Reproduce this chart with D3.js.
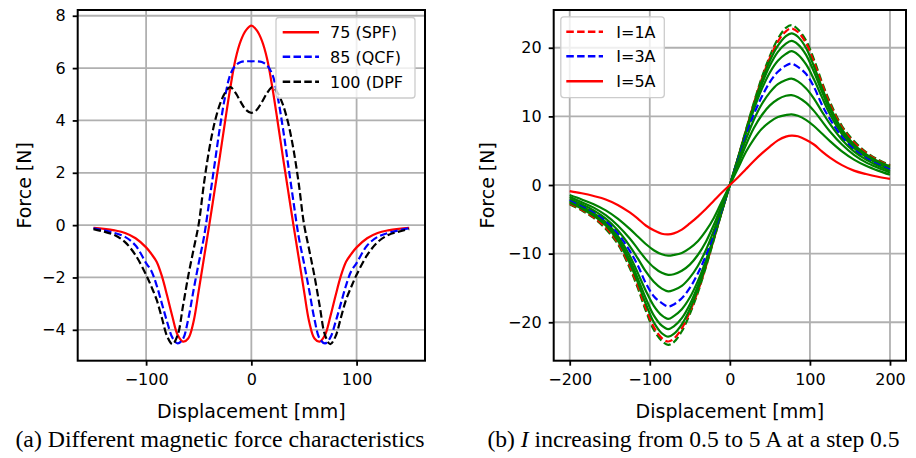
<!DOCTYPE html>
<html><head><meta charset="utf-8">
<script src="https://cdn.jsdelivr.net/npm/d3@7"></script>
<style>body{margin:0;background:#fff}svg{display:block}</style>
</head><body>
<svg id="c" width="916" height="458"></svg>
<script>
// ---------- (a) data ----------
const dispA = [-150,-140,-130,-120,-110,-100,-95,-90,-85,-80,-75,-70,-65,-60,-55,-50,-45,-40,-35,-30,-25,-20,-15,-10,-5,0,5,10,15,20,25,30,35,40,45,50,55,60,65,70,75,80,85,90,95,100,110,120,130,140,150];
const forceSPF = [-0.10,-0.14,-0.20,-0.30,-0.50,-0.85,-1.10,-1.40,-1.95,-2.70,-3.50,-4.20,-4.45,-4.33,-3.70,-2.50,-1.25,0.00,1.30,2.60,3.95,5.25,6.35,7.05,7.45,7.62,7.45,7.05,6.35,5.25,3.95,2.60,1.30,0.00,-1.25,-2.50,-3.70,-4.33,-4.45,-4.20,-3.50,-2.70,-1.95,-1.40,-1.10,-0.85,-0.50,-0.30,-0.20,-0.14,-0.10];
const forceQCF = [-0.12,-0.20,-0.30,-0.45,-0.78,-1.45,-1.75,-2.30,-3.00,-3.70,-4.30,-4.52,-4.35,-3.60,-2.50,-1.45,-0.45,0.90,2.30,3.70,4.90,5.75,6.10,6.23,6.26,6.26,6.26,6.23,6.10,5.75,4.90,3.70,2.30,0.90,-0.45,-1.45,-2.50,-3.60,-4.35,-4.52,-4.30,-3.70,-3.00,-2.30,-1.75,-1.45,-0.78,-0.45,-0.30,-0.20,-0.12];
const forceDPF = [-0.15,-0.25,-0.38,-0.65,-1.15,-1.90,-2.35,-2.85,-3.55,-4.25,-4.55,-4.20,-3.10,-1.95,-0.95,0.05,1.60,2.90,3.90,4.60,5.05,5.27,5.05,4.70,4.40,4.29,4.40,4.70,5.05,5.27,5.05,4.60,3.90,2.90,1.60,0.05,-0.95,-1.95,-3.10,-4.20,-4.55,-4.25,-3.55,-2.85,-2.35,-1.90,-1.15,-0.65,-0.38,-0.25,-0.15];
const labelsA = ["75 (SPF)", "85 (QCF)", "100 (DPF"];
const xTicksA = [-100, 0, 100];
const yTicksA = [-4, -2, 0, 2, 4, 6, 8];

// ---------- (b) data ----------
const dispB = [-200,-185,-170,-155,-140,-125,-115,-105,-95,-85,-77,-70,-60,-50,-40,-30,-20,-10,0,10,20,30,40,50,60,70,77,85,95,105,115,125,140,155,170,185,200];
const currents = [0.5,1,1.5,2,2.5,3,3.5,4,4.5,5];
const forceI05 = [-2.8,-3.7,-4.8,-6.4,-8.6,-12.1,-15.0,-18.3,-21.1,-22.7,-23.3,-22.9,-21.3,-18.8,-15.7,-12.0,-8.0,-3.9,0,3.9,8.0,12.0,15.7,18.8,21.3,22.9,23.3,22.7,21.1,18.3,15.0,12.1,8.6,6.4,4.8,3.7,2.9];
const forceI10 = [-2.7,-3.6,-4.7,-6.2,-8.4,-11.8,-14.7,-17.9,-20.7,-22.3,-22.8,-22.4,-20.9,-18.5,-15.5,-11.9,-7.9,-3.9,0,3.9,7.9,11.9,15.5,18.5,20.9,22.4,22.8,22.3,20.7,17.9,14.7,11.8,8.4,6.2,4.7,3.6,2.8];
const forceI15 = [-2.6,-3.45,-4.5,-5.9,-8.1,-11.4,-14.2,-17.3,-20.0,-21.6,-22.1,-21.7,-20.3,-18.1,-15.2,-11.7,-7.8,-3.85,0,3.85,7.8,11.7,15.2,18.1,20.3,21.7,22.1,21.6,20.0,17.3,14.2,11.4,8.1,5.9,4.5,3.45,2.7];
const forceI20 = [-2.45,-3.3,-4.3,-5.7,-7.8,-10.9,-13.6,-16.5,-19.0,-20.5,-21.0,-20.6,-19.4,-17.4,-14.7,-11.4,-7.7,-3.8,0,3.8,7.7,11.4,14.7,17.4,19.4,20.6,21.0,20.5,19.0,16.5,13.6,10.9,7.8,5.7,4.3,3.3,2.55];
const forceI25 = [-2.3,-3.1,-4.1,-5.4,-7.4,-10.3,-12.8,-15.4,-17.6,-19.0,-19.5,-19.1,-18.1,-16.4,-14.0,-11.0,-7.5,-3.7,0,3.7,7.5,11.0,14.0,16.4,18.1,19.1,19.5,19.0,17.6,15.4,12.8,10.3,7.4,5.4,4.1,3.1,2.4];
const forceI30 = [-2.15,-3.0,-3.9,-5.2,-7.0,-9.6,-11.7,-14.3,-16.2,-17.2,-17.7,-17.4,-16.5,-15.0,-12.9,-10.3,-7.1,-3.5,0,3.5,7.1,10.3,12.9,15.0,16.5,17.4,17.7,17.2,16.2,14.3,11.7,9.6,7.0,5.2,3.9,3.0,2.25];
const forceI35 = [-1.95,-2.8,-3.7,-4.9,-6.6,-8.9,-10.7,-12.6,-14.1,-15.1,-15.5,-15.3,-14.7,-13.5,-11.8,-9.5,-6.6,-3.3,0,3.3,6.6,9.5,11.8,13.5,14.7,15.3,15.5,15.1,14.1,12.6,10.7,8.9,6.6,4.9,3.7,2.8,2.05];
const forceI40 = [-1.7,-2.5,-3.3,-4.4,-5.9,-7.8,-9.3,-10.8,-12.0,-12.8,-13.1,-13.0,-12.5,-11.6,-10.2,-8.3,-5.8,-2.9,0,2.9,5.8,8.3,10.2,11.6,12.5,13.0,13.1,12.8,12.0,10.8,9.3,7.8,5.9,4.4,3.3,2.5,1.8];
const forceI45 = [-1.45,-2.1,-2.8,-3.7,-4.9,-6.4,-7.5,-8.6,-9.5,-10.1,-10.3,-10.2,-9.9,-9.2,-8.2,-6.7,-4.8,-2.4,0,2.4,4.8,6.7,8.2,9.2,9.9,10.2,10.3,10.1,9.5,8.6,7.5,6.4,4.9,3.7,2.8,2.1,1.5];
const forceI50 = [-0.88,-1.2,-1.6,-2.1,-2.9,-4.0,-4.9,-5.9,-6.6,-7.1,-7.2,-7.05,-6.5,-5.6,-4.6,-3.5,-2.3,-1.1,0,1.1,2.3,3.5,4.6,5.6,6.5,7.05,7.2,7.1,6.6,5.9,4.9,4.0,2.9,2.1,1.6,1.2,0.9];
const labelsB = ["I=1A", "I=3A", "I=5A"];
const xTicksB = [-200, -100, 0, 100, 200];
const yTicksB = [-20, -10, 0, 10, 20];

const captionA = "(a) Different magnetic force characteristics";
const captionB = ["(b) ", "I", " increasing from 0.5 to 5 A at a step 0.5"];

// ---------- drawing ----------
const svg = d3.select("#c");
const SANS = "DejaVu Sans";
const LW = 2.2, DASH = "7.5,3.3", GRID = "#b0b0b0";

function panel(box, xDom, yDom, xTicks, yTicks, id) {
  const x = d3.scaleLinear().domain(xDom).range([box.x0, box.x1]);
  const y = d3.scaleLinear().domain(yDom).range([box.y1, box.y0]);
  const g = svg.append("g");
  g.selectAll(".gx").data(xTicks).join("line")
    .attr("x1", d => x(d)).attr("x2", d => x(d)).attr("y1", box.y0).attr("y2", box.y1)
    .attr("stroke", GRID).attr("stroke-width", 1.8);
  g.selectAll(".gy").data(yTicks).join("line")
    .attr("y1", d => y(d)).attr("y2", d => y(d)).attr("x1", box.x0).attr("x2", box.x1)
    .attr("stroke", GRID).attr("stroke-width", 1.8);
  svg.append("clipPath").attr("id", id).append("rect")
    .attr("x", box.x0).attr("y", box.y0).attr("width", box.x1 - box.x0).attr("height", box.y1 - box.y0);
  const lines = svg.append("g").attr("clip-path", `url(#${id})`);
  const top = svg.append("g");
  top.append("rect").attr("x", box.x0).attr("y", box.y0)
    .attr("width", box.x1 - box.x0).attr("height", box.y1 - box.y0)
    .attr("fill", "none").attr("stroke", "#000").attr("stroke-width", 2);
  const ax = top.append("g").attr("transform", `translate(0,${box.y1})`)
    .call(d3.axisBottom(x).tickValues(xTicks).tickSize(5).tickPadding(8.4));
  const ay = top.append("g").attr("transform", `translate(${box.x0},0)`)
    .call(d3.axisLeft(y).tickValues(yTicks).tickSize(5).tickPadding(7));
  [ax, ay].forEach(a => {
    a.select(".domain").remove();
    a.selectAll(".tick line").attr("stroke", "#000").attr("stroke-width", 1.8);
    a.selectAll("text").attr("font-family", SANS).attr("font-size", 16).attr("fill", "#000");
  });
  top.append("text").attr("x", (box.x0 + box.x1) / 2).attr("y", 418)
    .attr("text-anchor", "middle").attr("font-family", SANS).attr("font-size", 19)
    .text("Displacement [mm]");
  top.append("text").attr("transform", `translate(${box.ylabX},${(box.y0 + box.y1) / 2}) rotate(-90)`)
    .attr("text-anchor", "middle").attr("font-family", SANS).attr("font-size", 19)
    .text("Force [N]");
  return {x, y, lines, top};
}

function legend(parent, lx, ly, w, h, items, hx0, hx1, tx, rows) {
  const lg = parent.append("g");
  lg.append("rect").attr("x", lx).attr("y", ly).attr("width", w).attr("height", h)
    .attr("rx", 3).attr("fill", "#fff").attr("fill-opacity", 0.8)
    .attr("stroke", "#cccccc").attr("stroke-width", 1.3);
  items.forEach((it, i) => {
    lg.append("line").attr("x1", hx0).attr("x2", hx1).attr("y1", rows[i]).attr("y2", rows[i])
      .attr("stroke", it.color).attr("stroke-width", LW + 0.3)
      .attr("stroke-dasharray", it.dash ? DASH : null);
    lg.append("text").attr("x", tx).attr("y", rows[i] + 5.8)
      .attr("font-family", SANS).attr("font-size", 16).text(it.label);
  });
}

// panel (a)
const A = panel({x0: 77.7, x1: 425, y0: 10, y1: 360.7, ylabX: 30.6},
  [-165, 165], [-5.18, 8.22], xTicksA, yTicksA, "clipA");
const lineA = d3.line().x((d, i) => A.x(dispA[i])).y(d => A.y(d)).curve(d3.curveCatmullRom.alpha(0.5));
const seriesA = [
  {v: forceSPF, color: "#ff0000", dash: false, label: labelsA[0]},
  {v: forceQCF, color: "#0000ff", dash: true, label: labelsA[1]},
  {v: forceDPF, color: "#000000", dash: true, label: labelsA[2]}
];
seriesA.forEach(s => {
  A.lines.append("path").attr("d", lineA(s.v)).attr("fill", "none")
    .attr("stroke", s.color).attr("stroke-width", LW)
    .attr("stroke-dasharray", s.dash ? DASH : null);
});
legend(A.top, 276, 17.5, 139, 80.5, seriesA, 282.7, 319, 330, [32.3, 56.7, 81.7]);

// panel (b)
const B = panel({x0: 553.7, x1: 906, y0: 10, y1: 360.7, ylabX: 493.6},
  [-220, 220], [-25.6, 25.5], xTicksB, yTicksB, "clipB");
const lineB = d3.line().x((d, i) => B.x(dispB[i])).y(d => B.y(d)).curve(d3.curveCatmullRom.alpha(0.5));
const seriesB = [forceI05, forceI10, forceI15, forceI20, forceI25, forceI30, forceI35, forceI40, forceI45, forceI50];
const styleB = currents.map(c =>
  c === 1 ? {color: "#ff0000", dash: true} :
  c === 3 ? {color: "#0000ff", dash: true} :
  c === 5 ? {color: "#ff0000", dash: false} :
  c === 0.5 ? {color: "#008000", dash: true} :
  {color: "#008000", dash: false});
seriesB.forEach((v, i) => {
  B.lines.append("path").attr("d", lineB(v)).attr("fill", "none")
    .attr("stroke", styleB[i].color).attr("stroke-width", LW)
    .attr("stroke-dasharray", styleB[i].dash ? DASH : null);
});
legend(B.top, 560.8, 16.8, 103.5, 80.8, [
  {color: "#ff0000", dash: true, label: labelsB[0]},
  {color: "#0000ff", dash: true, label: labelsB[1]},
  {color: "#ff0000", dash: false, label: labelsB[2]}
], 566.3, 603, 616.3, [31.7, 56.3, 81.3]);

// captions
const SERIF = "Liberation Serif";
svg.append("text").attr("x", 220).attr("y", 447).attr("text-anchor", "middle")
  .attr("font-family", SERIF).attr("font-size", 23.8).text(captionA);
const cb = svg.append("text").attr("x", 693.5).attr("y", 447).attr("text-anchor", "middle")
  .attr("font-family", SERIF).attr("font-size", 23.6);
cb.append("tspan").text(captionB[0]);
cb.append("tspan").attr("font-style", "italic").text(captionB[1]);
cb.append("tspan").text(captionB[2]);
</script>
</body></html>
